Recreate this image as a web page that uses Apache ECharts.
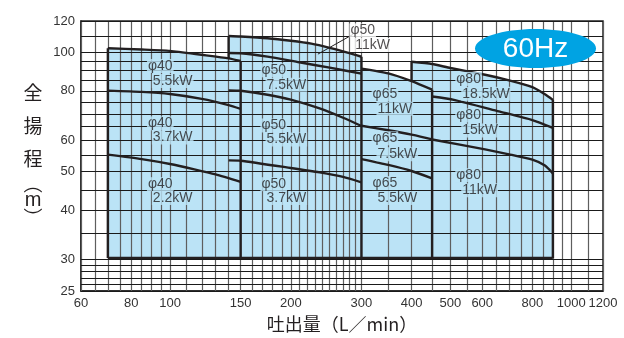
<!DOCTYPE html>
<html><head><meta charset="utf-8">
<script src="https://cdn.jsdelivr.net/npm/echarts@6/dist/echarts.min.js"></script>
<style>html,body{margin:0;padding:0;background:#fff}#c{width:624px;height:338px}</style>
</head><body><div id="c"></div>
<script>
// ---------- data (flow L/min, head m) ----------
const xTickLabels = [60, 80, 100, 150, 200, 300, 400, 500, 600, 800, 1000, 1200];
const yTickLabels = [25, 30, 40, 50, 60, 80, 100, 120];
const xGridValues = [60,65,70,75,80,85,90,95,100,110,120,130,140,150,160,170,180,190,200,210,220,230,240,250,260,270,280,290,300,350,400,450,500,550,600,650,700,750,800,850,900,950,1000,1100,1200];
const yGridValues = [25,26,27,28,29,30,35,40,45,50,55,60,65,70,75,80,85,90,95,100,110,120];
const baseHead = 30.3;

const phi40_55_flow = [70, 85, 100, 120, 140, 150];
const phi40_55_head = [102.4, 101.7, 100.9, 98.6, 96.6, 95.1];
const phi40_37_flow = [70, 85, 100, 120, 140, 150];
const phi40_37_head = [80.1, 79.5, 78.5, 76.3, 73.6, 72.0];
const phi40_22_flow = [70, 85, 100, 115, 130, 150];
const phi40_22_head = [55.2, 53.8, 52.3, 50.7, 49.2, 47.1];

const phi50_11_flow = [140, 150, 175, 200, 225, 250, 280, 300];
const phi50_11_head = [110, 109.7, 108.6, 107, 105.2, 102.7, 99.6, 97.5];
const phi50_75_flow = [140, 150, 175, 210, 250, 300];
const phi50_75_head = [99.6, 99.5, 97.6, 94.4, 91.5, 88.4];
const phi50_55_flow = [140, 150, 175, 200, 236, 270, 300];
const phi50_55_head = [80.2, 80.0, 78.2, 76.0, 72.2, 68.4, 65.2];
const phi50_37_flow = [140, 150, 200, 236, 270, 300];
const phi50_37_head = [53.4, 53.3, 51.1, 49.8, 48.5, 47.0];

const phi65_11_flow = [300, 350, 400, 450];
const phi65_11_head = [91.0, 88.5, 84.6, 80.5];
const phi65_75_flow = [300, 350, 400, 450];
const phi65_75_head = [65.3, 63.6, 62.0, 60.3];
const phi65_55_flow = [300, 350, 400, 450];
const phi65_55_head = [53.8, 52.0, 50.2, 48.1];

const phi80_185_flow = [400, 450, 500, 610, 700, 800, 860, 900];
const phi80_185_head = [94.7, 93.5, 91.3, 87.8, 85.0, 81.7, 78.4, 75.9];
const phi80_15_flow = [450, 510, 660, 800, 900];
const phi80_15_head = [77.4, 75.9, 71.0, 67.5, 64.5];
const phi80_11_flow = [450, 610, 700, 800, 860, 900];
const phi80_11_head = [60.3, 56.9, 55.3, 53.6, 51.8, 49.5];

const labelTexts = ['φ40','5.5kW','φ40','3.7kW','φ40','2.2kW','φ50','7.5kW','φ50','5.5kW','φ50','3.7kW','φ65','11kW','φ65','7.5kW','φ65','5.5kW','φ80','18.5kW','φ80','15kW','φ80','11kW','φ50','11kW'];
const labelFlow  = [87.6, 90.1, 87.6, 90.1, 87.6, 90.1, 168, 173, 168, 173, 168, 173, 318, 327, 318, 327, 318, 327, 514, 532, 514, 532, 514, 532, 280, 288];
const labelHead  = [92.4, 84.7, 66.2, 61.0, 46.5, 42.9, 90.1, 82.8, 65.4, 60.3, 46.5, 42.9, 78.4, 72.1, 60.7, 55.3, 46.8, 42.9, 85.7, 78.6, 69.3, 63.5, 49.0, 44.9, 113.6, 104.4];
const leaderFlow = [285.6, 233.7];
const leaderHead = [111, 99];

// ---------- styling ----------
const FILL = '#bbe3f6';
const INK = '#231f20';
const LATIN = '"Liberation Sans", Arial, sans-serif';
const CJK = '"Noto Sans CJK JP", sans-serif';

const pairs = (f, h) => f.map((x, i) => [x, h[i]]);
const headAt = (f, h, x) => h[f.indexOf(x)];
const last = a => a[a.length - 1];

// regions in drawing order (later ones cover earlier)
const fillTops = [
  [phi50_11_flow, phi50_11_head],
  [phi40_55_flow, phi40_55_head],
  [phi80_185_flow, phi80_185_head],
  [phi65_11_flow, phi65_11_head]
];
const curves = [
  [phi40_55_flow, phi40_55_head], [phi40_37_flow, phi40_37_head], [phi40_22_flow, phi40_22_head],
  [phi50_11_flow, phi50_11_head], [phi50_75_flow, phi50_75_head], [phi50_55_flow, phi50_55_head], [phi50_37_flow, phi50_37_head],
  [phi65_11_flow, phi65_11_head], [phi65_75_flow, phi65_75_head], [phi65_55_flow, phi65_55_head],
  [phi80_185_flow, phi80_185_head], [phi80_15_flow, phi80_15_head], [phi80_11_flow, phi80_11_head]
];
const edges = [
  [[phi40_55_flow[0], baseHead], [phi40_55_flow[0], phi40_55_head[0]]],
  [[last(phi40_55_flow), last(phi40_55_head)], [last(phi40_55_flow), baseHead]],
  [[phi50_11_flow[0], headAt(phi40_55_flow, phi40_55_head, phi50_11_flow[0])], [phi50_11_flow[0], phi50_11_head[0]]],
  [[last(phi50_11_flow), last(phi50_11_head)], [last(phi50_11_flow), baseHead]],
  [[last(phi65_11_flow), last(phi65_11_head)], [last(phi65_11_flow), baseHead]],
  [[phi80_185_flow[0], headAt(phi65_11_flow, phi65_11_head, phi80_185_flow[0])], [phi80_185_flow[0], phi80_185_head[0]]],
  [[last(phi80_185_flow), last(phi80_185_head)], [last(phi80_185_flow), baseHead]],
  [[phi40_55_flow[0], baseHead], [last(phi80_185_flow), baseHead]]
];

const series = [];
series.push({
  type: 'custom', z: 1, silent: true,
  data: fillTops.map(t => [t[0][0], t[1][0]]),
  renderItem: function (params, api) {
    const t = fillTops[params.dataIndex];
    const pts = t[0].map((x, i) => api.coord([x, t[1][i]]));
    pts.push(api.coord([last(t[0]), baseHead]));
    pts.push(api.coord([t[0][0], baseHead]));
    return { type: 'polygon', shape: { points: pts, smooth: 0 }, style: { fill: FILL } };
  }
});
series.push({
  type: 'line', data: [], silent: true,
  markLine: { silent: true, symbol: ['none', 'none'], label: { show: false }, z: 5,
    lineStyle: { color: '#5e5e5e', width: 1.2, type: 'solid' },
    emphasis: { disabled: true },
    data: xGridValues.map(v => ({ xAxis: v })) }
});
series.push({
  type: 'line', data: [], silent: true,
  markLine: { silent: true, symbol: ['none', 'none'], label: { show: false }, z: 5,
    lineStyle: { color: '#1a1a1a', width: 1, type: 'solid' },
    emphasis: { disabled: true },
    data: yGridValues.map(v => ({ yAxis: v })) }
});
curves.forEach(c => series.push({
  type: 'line', data: pairs(c[0], c[1]), symbol: 'none', smooth: 0.2, z: 10, silent: true,
  lineStyle: { color: INK, width: 2.4 }
}));
edges.forEach(e => series.push({
  type: 'line', data: e, symbol: 'none', z: 10, silent: true,
  lineStyle: { color: INK, width: 2.4 }
}));
series.push({
  type: 'line', data: pairs(leaderFlow, leaderHead), symbol: 'none', z: 10, silent: true,
  lineStyle: { color: INK, width: 1 }
});
series.push({
  type: 'scatter', symbolSize: 0, z: 20, silent: true,
  data: labelTexts.map((t, i) => ({
    name: t, value: [labelFlow[i], labelHead[i]],
    label: i >= 24 ? { backgroundColor: '#fff' } : {}
  })),
  label: { show: true, position: 'right', distance: 0, formatter: '{b}',
    color: INK, fontSize: 14, fontFamily: LATIN, backgroundColor: FILL, padding: [0, 1] }
});

const chart = echarts.init(document.getElementById('c'), null, { renderer: 'canvas' });
chart.setOption({
  animation: false,
  backgroundColor: '#fff',
  grid: { left: 81, right: 21, top: 21, bottom: 45.5, show: true, borderColor: '#222', borderWidth: 1.5, backgroundColor: 'transparent' },
  xAxis: {
    type: 'log', logBase: 10, min: 60, max: 1200,
    name: '吐出量（L／min）', nameLocation: 'middle', nameGap: 24,
    nameTextStyle: { fontSize: 18, color: INK, fontFamily: CJK },
    axisLine: { show: true, lineStyle: { color: '#222', width: 1.5 } },
    axisTick: { show: false }, splitLine: { show: false }, minorSplitLine: { show: false },
    axisLabel: { customValues: xTickLabels, formatter: v => String(Math.round(v)), color: '#333', fontSize: 13, fontFamily: LATIN, margin: 6, hideOverlap: false, showMinLabel: true, showMaxLabel: true }
  },
  yAxis: {
    type: 'log', logBase: 10, min: 25, max: 120,
    name: '{c|全}\n{c|揚}\n{c|程}\n{p|︵}\n{m|m}\n{p|︶}', nameLocation: 'middle', nameRotate: 0, nameGap: 37,
    nameTextStyle: { padding: [0, 0, 10, 0], rich: {
      c: { fontSize: 19, lineHeight: 33, width: 22, align: 'center', color: INK, fontFamily: CJK },
      p: { fontSize: 19, lineHeight: 17, width: 22, align: 'center', color: INK, fontFamily: CJK },
      m: { fontSize: 20, lineHeight: 17, width: 22, align: 'center', color: INK, fontFamily: LATIN }
    } },
    axisLine: { show: true, lineStyle: { color: '#222', width: 1.5 } },
    axisTick: { show: false }, splitLine: { show: false },
    axisLabel: { customValues: yTickLabels, formatter: v => String(Math.round(v)), color: '#333', fontSize: 13, fontFamily: LATIN, margin: 6, hideOverlap: false, showMinLabel: true, showMaxLabel: true }
  },
  graphic: [
    { type: 'ellipse', z: 100, shape: { cx: 535.5, cy: 48.5, rx: 60.5, ry: 19.5 }, style: { fill: '#00a3e3' } },
    { type: 'text', z: 101, x: 535.5, y: 49.5, style: { text: '60Hz', fill: '#fff', font: '28px "Liberation Sans", Arial, sans-serif', align: 'center', verticalAlign: 'middle' } }
  ],
  series: series
});
</script></body></html>
